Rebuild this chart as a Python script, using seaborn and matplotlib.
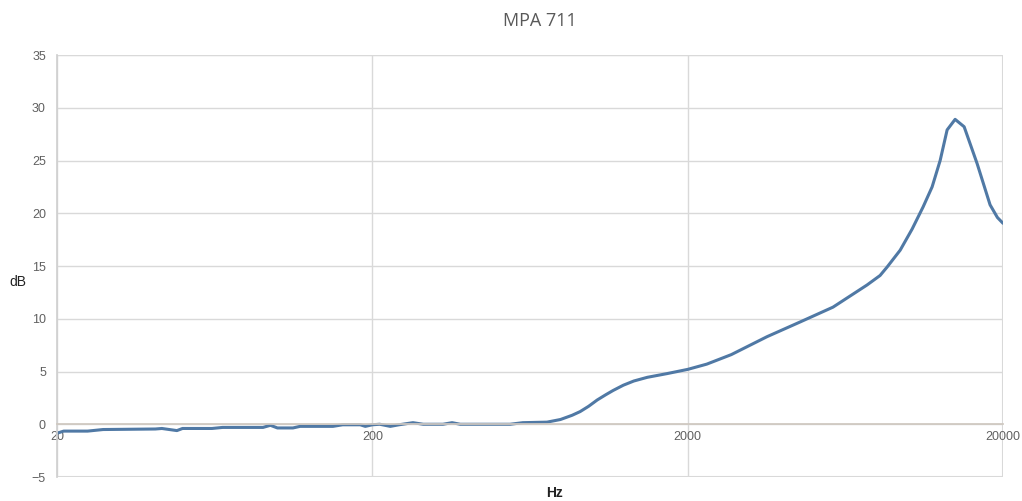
import matplotlib
matplotlib.use("Agg")
import matplotlib.pyplot as plt
import seaborn as sns
import pandas as pd

# frequency response
freq_hz = [20, 21, 25, 28, 41, 43, 48, 50, 62, 67, 90, 95, 100, 112, 118, 150, 161, 183, 190, 200,
           211, 228, 243, 269, 290, 335, 358, 380, 440, 547, 600, 716, 790, 860, 912, 970, 1033,
           1100, 1160, 1250, 1350, 1490, 1720, 2000, 2300, 2750, 3570, 4550, 5780, 7410, 8150,
           8580, 9440, 10300, 11160, 11920, 12640, 13300, 14100, 15060, 16560, 18200, 19200, 20000]
level_db = [-0.85, -0.65, -0.65, -0.5, -0.45, -0.4, -0.6, -0.4, -0.4, -0.3, -0.3, -0.1, -0.35, -0.35,
            -0.2, -0.2, -0.05, -0.05, -0.2, -0.05, 0.0, -0.2, -0.05, 0.15, 0.0, 0.0, 0.15, 0.0, 0.0,
            0.0, 0.15, 0.2, 0.45, 0.85, 1.2, 1.7, 2.3, 2.8, 3.2, 3.7, 4.1, 4.45, 4.8, 5.2, 5.7, 6.6,
            8.3, 9.7, 11.1, 13.2, 14.1, 14.9, 16.5, 18.5, 20.6, 22.5, 25.0, 27.9, 28.9, 28.2, 24.7,
            20.8, 19.6, 19.05]
x_ticks = [20, 200, 2000, 20000]
y_ticks = [-5, 0, 5, 10, 15, 20, 25, 30, 35]

df = pd.DataFrame({"Hz": freq_hz, "dB": level_db})

sns.set_theme(style="whitegrid")
plt.rcParams['font.family'] = ['Open Sans', 'DejaVu Sans']

fig = plt.figure(figsize=(10.22, 5.01), dpi=100)
ax = fig.add_axes([0.0558, 0.0479, 0.9256, 0.8423])

sns.lineplot(data=df, x="Hz", y="dB", ax=ax, color="#5079a5", linewidth=2.2)

ax.set_xscale("log")
ax.set_xlim(20, 20000)
ax.set_ylim(-5, 35)
ax.set_xticks(x_ticks)
ax.set_xticklabels([str(t) for t in x_ticks])
ax.minorticks_off()
ax.set_yticks(y_ticks)

ax.grid(True, color="#d9d9d9", linewidth=1.0)
for side in ["top", "right"]:
    ax.spines[side].set_visible(False)
ax.spines["left"].set_color("#d0d0d0")
ax.spines["bottom"].set_position(("data", 0))
ax.spines["bottom"].set_color("#cfc8c0")
ax.axhline(-5, color="#d9d9d9", linewidth=1.5, zorder=0)
ax.axhline(35, color="#d9d9d9", linewidth=1.5, zorder=0)
ax.axvline(20000, color="#d9d9d9", linewidth=1.5, zorder=0)

ax.tick_params(axis="both", length=0, labelsize=9, labelcolor="#606060")
ax.tick_params(axis="x", pad=5)
ax.tick_params(axis="y", pad=8)
for lbl in ax.get_xticklabels() + ax.get_yticklabels():
    lbl.set_family(["Liberation Sans", "DejaVu Sans"])

ax.set_xlabel("")
ax.set_ylabel("")
fig.text(0.0176, 0.437, "dB", fontsize=10, color="#222222", ha="center", va="center",
         family=["Liberation Sans", "DejaVu Sans"])
fig.text(0.543, 0.016, "Hz", fontsize=10, color="#222222", ha="center", va="center",
         fontweight="bold", family=["Liberation Sans", "DejaVu Sans"])
fig.text(0.528, 0.958, "MPA 711", fontsize=13, color="#595959", ha="center", va="center")

fig.savefig("out.png", dpi=100)
